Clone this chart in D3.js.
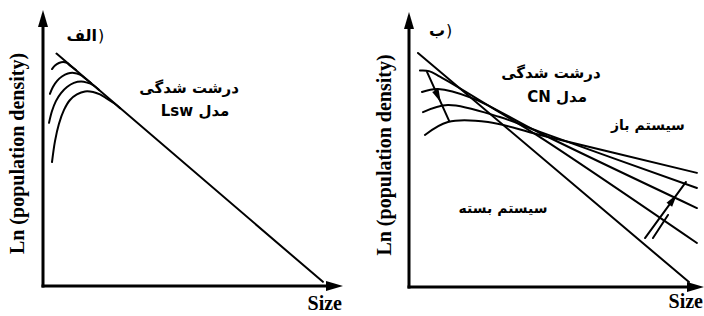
<!DOCTYPE html>
<html>
<head>
<meta charset="utf-8">
<script src="https://cdn.jsdelivr.net/npm/d3@7/dist/d3.min.js"></script>
<style>
  body { margin: 0; background: #fff; }
  svg { display: block; }
</style>
</head>
<body>
<div id="chart"></div>
<script>
// schematic values (size 0-100, ln density 0-100)

// panel a (LSW model): limit line and transient distributions
var lswLimit = [[4.5, 84.2], [93.3, 1.5]];
var lswCurve1 = [[3.0, 78.6], [4.0, 79.9], [5.3, 80.8], [6.7, 81.2], [8.0, 80.8], [9.3, 79.6], [11.0, 78.2]];
var lswCurve2 = [[2.3, 69.6], [3.3, 72.1], [4.7, 74.3], [6.3, 75.9], [8.3, 77.0], [10.3, 77.2], [12.3, 76.6], [14.3, 75.0], [16.0, 73.5]];
var lswCurve3 = [[2.0, 59.1], [3.0, 63.4], [4.3, 67.0], [6.0, 69.9], [8.0, 72.1], [10.3, 73.6], [12.7, 74.1], [14.7, 73.7], [16.7, 72.8], [18.7, 71.0]];
var lswCurve4 = [[3.0, 44.9], [4.0, 52.5], [5.3, 58.7], [7.0, 63.8], [9.0, 67.4], [11.3, 69.4], [14.0, 70.5], [16.7, 70.3], [19.0, 69.4], [21.3, 67.9], [23.7, 66.2], [25.7, 64.4]];

// panel b (CN model): closed system line and open system distributions
var cnClosed = [[3.05, 85.1], [94.9, 1.8]];
var cnCurveA = [[3.7, 78.7], [6.8, 78.5], [10.5, 76.5], [27.5, 65.6], [44.4, 54.5], [97.6, 16.0]];
var cnCurveB = [[4.4, 70.9], [9.8, 72.0], [21.4, 68.7], [44.4, 56.0], [97.6, 28.7]];
var cnCurveC = [[4.75, 63.6], [13.2, 66.2], [30.8, 61.8], [44.4, 56.4], [97.6, 36.0]];
var cnCurveD = [[5.4, 55.3], [13.2, 60.0], [26.8, 60.0], [44.4, 55.3], [97.6, 41.5]];

// arrows showing how the distributions move
var cnArrowTop = [[6.1, 78.2], [13.6, 60.4]];
var cnArrowBottom = [[80.0, 17.8], [93.9, 38.2]];
var cnArrowTail = [[82.7, 17.8], [87.8, 26.2]];

var axisTitleX = "Size";
var axisTitleY = "Ln (population density)";
var panelTags = ["الف", "ب"];
var coarsening = "درشت شدگی";
var modelNames = ["مدل Lsw", "مدل CN"];
var systemNames = ["سیستم باز", "سیستم بسته"];

var width = 704, height = 316;

var svg = d3.select("#chart")
    .append("svg")
    .attr("width", width)
    .attr("height", height);

// two panels, each with its own scales
var panels = [
    { x: d3.scaleLinear().domain([0, 100]).range([43, 343]),
      y: d3.scaleLinear().domain([0, 100]).range([286, 10]) },
    { x: d3.scaleLinear().domain([0, 100]).range([409, 704]),
      y: d3.scaleLinear().domain([0, 100]).range([287, 12]) }
];

function head(g, x1, y1, x2, y2, len, half) {
    // filled triangle pointing from (x1,y1) to (x2,y2), tip at (x2,y2)
    var a = Math.atan2(y2 - y1, x2 - x1);
    var bx = x2 - len * Math.cos(a), by = y2 - len * Math.sin(a);
    var px = -Math.sin(a) * half, py = Math.cos(a) * half;
    g.append("path")
        .attr("d", `M${x2},${y2}L${bx + px},${by + py}L${bx - px},${by - py}Z`)
        .attr("fill", "#000");
}

function drawAxes(p) {
    var g = svg.append("g");
    var x0 = p.x(0), y0 = p.y(0);
    g.append("line")
        .attr("x1", x0).attr("y1", y0 + 1.5)
        .attr("x2", x0).attr("y2", p.y(100) + 12)
        .attr("stroke", "#000").attr("stroke-width", 3);
    head(g, x0, y0, x0, p.y(100), 17, 5);
    g.append("line")
        .attr("x1", x0 - 1.5).attr("y1", y0)
        .attr("x2", p.x(100) - 12).attr("y2", y0)
        .attr("stroke", "#000").attr("stroke-width", 3);
    head(g, x0, y0, p.x(100), y0, 17, 5);
}

function drawLine(p, pts, w) {
    var line = d3.line()
        .x(function(d) { return p.x(d[0]); })
        .y(function(d) { return p.y(d[1]); })
        .curve(d3.curveCatmullRom.alpha(0.5));
    svg.append("path")
        .attr("d", line(pts))
        .attr("fill", "none")
        .attr("stroke", "#000")
        .attr("stroke-width", w || 2)
        .attr("stroke-linecap", "round");
}

function arrow(p, pts, at) {
    drawLine(p, pts, 2);
    var x1 = p.x(pts[0][0]), y1 = p.y(pts[0][1]);
    var x2 = p.x(pts[1][0]), y2 = p.y(pts[1][1]);
    var tx = x1 + (x2 - x1) * at, ty = y1 + (y2 - y1) * at;
    head(svg, x1, y1, tx, ty, 13, 3.5);
}

function label(txt, x, y, opts) {
    var t = svg.append("text")
        .attr("x", x).attr("y", y)
        .attr("text-anchor", opts.anchor || "middle")
        .style("font-family", opts.family)
        .style("font-size", opts.size + "px")
        .style("font-weight", opts.weight || "bold")
        .attr("fill", "#000")
        .text(txt);
    if (opts.rtl) t.attr("direction", "rtl").style("unicode-bidi", "embed");
    if (opts.rotate) t.attr("transform", `rotate(-90,${x},${y})`);
    return t;
}

// panel tag: word, then the bracket on its right side
function tag(txt, x, y) {
    label(txt, x, y, { family: fa, size: 16, anchor: "end" });
    label(")", x + 1, y, { family: fa, size: 16, anchor: "start", weight: "normal" });
}

var serif = "'Liberation Serif', 'Times New Roman', 'DejaVu Serif', serif";
var fa = "'DejaVu Sans', sans-serif";

panels.forEach(function(p, i) {
    drawAxes(p);
    label(axisTitleX, p.x(100) - 1, p.y(0) + (i ? 21 : 24), { family: serif, size: 20, anchor: "end" });
    label(axisTitleY, p.x(0) - (i ? 18 : 19), p.y(48), { family: serif, size: 20, rotate: true });
});

// panel a
var pa = panels[0];
drawLine(pa, lswLimit, 2);
[lswCurve1, lswCurve2, lswCurve3, lswCurve4].forEach(function(c) { drawLine(pa, c, 2); });
tag(panelTags[0], pa.x(18), pa.y(88.8));
label(coarsening, pa.x(48.7), pa.y(69.9), { family: fa, size: 15, rtl: true });
label(modelNames[0], pa.x(50.7), pa.y(61.6), { family: fa, size: 15, rtl: true });

// panel b
var pb = panels[1];
drawLine(pb, cnClosed, 2);
[cnCurveA, cnCurveB, cnCurveC, cnCurveD].forEach(function(c) { drawLine(pb, c, 2); });
arrow(pb, cnArrowTop, 0.62);
arrow(pb, cnArrowBottom, 0.78);
drawLine(pb, cnArrowTail, 2);
tag(panelTags[1], pb.x(12.2), pb.y(91.3));
label(coarsening, pb.x(48.1), pb.y(76.0), { family: fa, size: 15, rtl: true });
label(modelNames[1], pb.x(50.2), pb.y(67.3), { family: fa, size: 15, rtl: true });
label(systemNames[0], pb.x(81.0), pb.y(57.1), { family: fa, size: 14, rtl: true });
label(systemNames[1], pb.x(31.9), pb.y(26.9), { family: fa, size: 14, rtl: true });
</script>
</body>
</html>
